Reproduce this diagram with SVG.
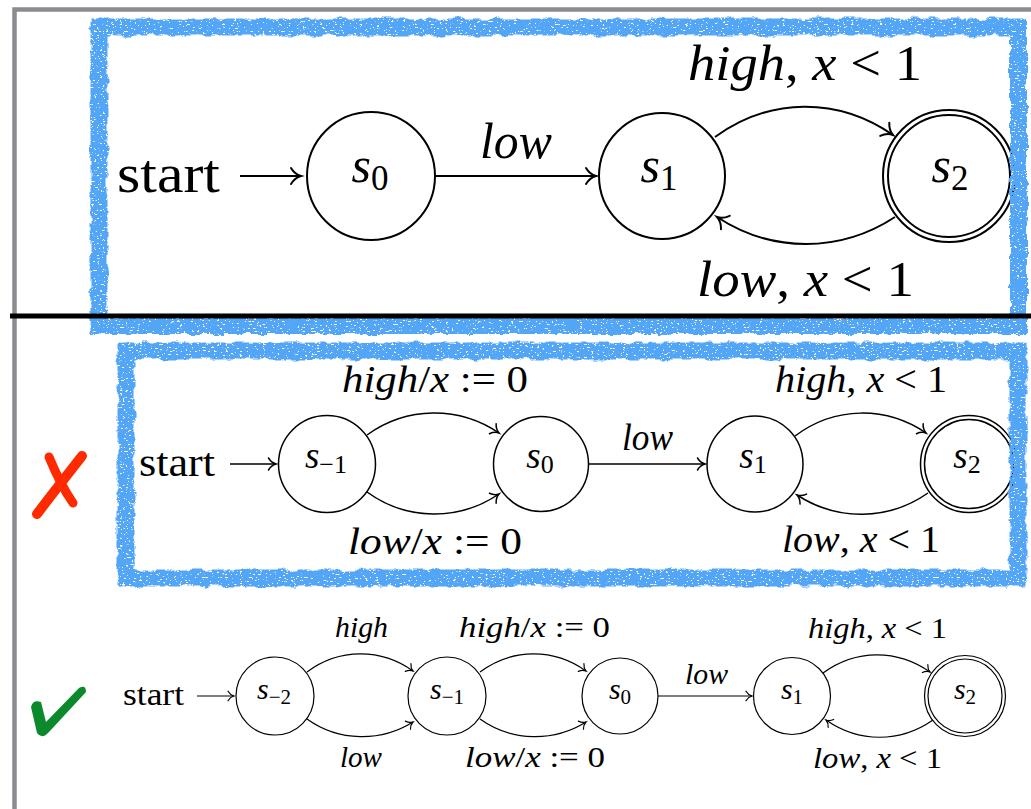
<svg xmlns="http://www.w3.org/2000/svg" width="1031" height="809" viewBox="0 0 1031 809">
<defs>
<style>
text{font-family:"Liberation Serif",serif;fill:#000}
.it{font-style:italic}
.n1{fill:none;stroke:#000;stroke-width:2}
.n2{fill:none;stroke:#000;stroke-width:1.5}
.n3{fill:none;stroke:#000;stroke-width:1.2}
.e1{fill:none;stroke:#000;stroke-width:2;marker-end:url(#arr)}
.e2{fill:none;stroke:#000;stroke-width:1.5;marker-end:url(#arr)}
.e3{fill:none;stroke:#000;stroke-width:1.2;marker-end:url(#arr)}
.t1{font-size:50px}
.t2{font-size:37px}
.t3{font-size:30px}
.blue{fill:none;stroke:#52a5f6;stroke-width:17;filter:url(#rough)}
</style>
<marker id="arr" markerUnits="strokeWidth" orient="auto" viewBox="-6 -5 7 10" refX="0" refY="0" markerWidth="7" markerHeight="10" overflow="visible">
<path d="M-5,-4 C-3.5,-1.5 -1.5,-0.4 0,0 C-1.5,0.4 -3.5,1.5 -5,4" fill="none" stroke="#000" stroke-width="1" stroke-linecap="round"/>
</marker>
<filter id="rough" filterUnits="userSpaceOnUse" x="0" y="0" width="1031" height="809">
<feTurbulence type="fractalNoise" baseFrequency="0.09" numOctaves="3" seed="3" result="n"/>
<feDisplacementMap in="SourceGraphic" in2="n" scale="7" xChannelSelector="R" yChannelSelector="G" result="d"/>
<feTurbulence type="fractalNoise" baseFrequency="0.35 0.7" numOctaves="2" seed="7" result="n2"/>
<feColorMatrix in="n2" type="matrix" values="0 0 0 0 0  0 0 0 0 0  0 0 0 0 0  0 0 0 -18 12.9" result="mask"/>
<feComposite in="d" in2="mask" operator="in"/>
</filter>
</defs>
<rect width="1031" height="809" fill="#fff"/>

<g id="frame">
<path d="M14.5,809 V9.5 H1031" fill="none" stroke="#8b8c90" stroke-width="4.5"/>
</g>

<g id="connectors">
<path class="e1" d="M240,176 H301"/>
<path class="e1" d="M435,176 H596"/>
<path class="e1" d="M715,137 C770,97 838,97 893,135"/>
<path class="e1" d="M895,217 C840,253 772,253 717,217"/>

<path class="e2" d="M230,464 H276"/>
<path class="e2" d="M367,435 C407,406 459,406 499,433"/>
<path class="e2" d="M367,492 C407,521 459,521 499,494"/>
<path class="e2" d="M588,464 H705"/>
<path class="e2" d="M795,436 C835,406 886,406 926,433"/>
<path class="e2" d="M928,493 C888,521 837,521 797,495"/>

<path class="e3" d="M197,696 H234"/>
<path class="e3" d="M307,672 C339,648 381,648 413,671"/>
<path class="e3" d="M307,719 C339,742 381,742 413,722"/>
<path class="e3" d="M480,672 C512,648 554,648 586,671"/>
<path class="e3" d="M480,719 C512,742 554,742 586,722"/>
<path class="e3" d="M658,696 H752"/>
<path class="e3" d="M823,673 C856,649 897,649 930,672"/>
<path class="e3" d="M933,720 C900,743 859,743 826,720"/>
</g>

<g id="labels">
<text x="117" y="192" font-size="54" textLength="103" lengthAdjust="spacingAndGlyphs">start</text>
<text class="t1" x="480" y="158" textLength="72" lengthAdjust="spacingAndGlyphs"><tspan class="it">low</tspan></text>
<text class="t1" x="688" y="80" textLength="234" lengthAdjust="spacingAndGlyphs"><tspan class="it">high</tspan>, <tspan class="it">x</tspan> &lt; 1</text>
<text class="t1" x="697" y="296" textLength="217" lengthAdjust="spacingAndGlyphs"><tspan class="it">low</tspan>, <tspan class="it">x</tspan> &lt; 1</text>

<text x="139" y="476" font-size="40" textLength="76" lengthAdjust="spacingAndGlyphs">start</text>
<text class="t2" x="342" y="392" textLength="186" lengthAdjust="spacingAndGlyphs"><tspan class="it">high</tspan>/<tspan class="it">x</tspan> := 0</text>
<text class="t2" x="348" y="554" textLength="174" lengthAdjust="spacingAndGlyphs"><tspan class="it">low</tspan>/<tspan class="it">x</tspan> := 0</text>
<text class="t2" x="622" y="450" textLength="51" lengthAdjust="spacingAndGlyphs"><tspan class="it">low</tspan></text>
<text class="t2" x="775" y="392" textLength="172" lengthAdjust="spacingAndGlyphs"><tspan class="it">high</tspan>, <tspan class="it">x</tspan> &lt; 1</text>
<text class="t2" x="782" y="552" textLength="158" lengthAdjust="spacingAndGlyphs"><tspan class="it">low</tspan>, <tspan class="it">x</tspan> &lt; 1</text>

<text x="123" y="705" font-size="32" textLength="61" lengthAdjust="spacingAndGlyphs">start</text>
<text class="t3" x="335" y="637" textLength="53" lengthAdjust="spacingAndGlyphs"><tspan class="it">high</tspan></text>
<text class="t3" x="340" y="767" textLength="42" lengthAdjust="spacingAndGlyphs"><tspan class="it">low</tspan></text>
<text class="t3" x="459" y="637" textLength="151" lengthAdjust="spacingAndGlyphs"><tspan class="it">high</tspan>/<tspan class="it">x</tspan> := 0</text>
<text class="t3" x="465" y="767" textLength="140" lengthAdjust="spacingAndGlyphs"><tspan class="it">low</tspan>/<tspan class="it">x</tspan> := 0</text>
<text class="t3" x="685" y="684" textLength="43" lengthAdjust="spacingAndGlyphs"><tspan class="it">low</tspan></text>
<text class="t3" x="808" y="638" textLength="139" lengthAdjust="spacingAndGlyphs"><tspan class="it">high</tspan>, <tspan class="it">x</tspan> &lt; 1</text>
<text class="t3" x="813" y="768" textLength="129" lengthAdjust="spacingAndGlyphs"><tspan class="it">low</tspan>, <tspan class="it">x</tspan> &lt; 1</text>
</g>

<g id="top-s0"><circle class="n1" cx="371" cy="176" r="64"/><text class="t1" x="370" y="182" text-anchor="middle"><tspan class="it">s</tspan><tspan font-size="35" dy="8">0</tspan></text></g>
<g id="top-s1"><circle class="n1" cx="662" cy="176" r="63"/><text class="t1" x="659" y="182" text-anchor="middle"><tspan class="it">s</tspan><tspan font-size="35" dy="8">1</tspan></text></g>
<g id="top-s2"><circle class="n1" cx="949" cy="176" r="66"/><circle class="n1" cx="949" cy="176" r="61"/><text class="t1" x="950" y="182" text-anchor="middle"><tspan class="it">s</tspan><tspan font-size="35" dy="8">2</tspan></text></g>

<g id="mid-s-1"><circle class="n2" cx="327" cy="464" r="48.5"/><text class="t2" x="326" y="468" text-anchor="middle"><tspan class="it">s</tspan><tspan font-size="26" dy="5">&#8722;1</tspan></text></g>
<g id="mid-s0"><circle class="n2" cx="541" cy="464" r="47.5"/><text class="t2" x="540" y="468" text-anchor="middle"><tspan class="it">s</tspan><tspan font-size="26" dy="5">0</tspan></text></g>
<g id="mid-s1"><circle class="n2" cx="755" cy="464" r="48"/><text class="t2" x="753" y="468" text-anchor="middle"><tspan class="it">s</tspan><tspan font-size="26" dy="5">1</tspan></text></g>
<g id="mid-s2"><circle class="n2" cx="969" cy="464" r="48.5"/><circle class="n2" cx="969" cy="464" r="44.5"/><text class="t2" x="967" y="468" text-anchor="middle"><tspan class="it">s</tspan><tspan font-size="26" dy="5">2</tspan></text></g>

<g id="bot-s-2"><circle class="n3" cx="275" cy="696" r="39"/><text class="t3" x="274" y="699" text-anchor="middle"><tspan class="it">s</tspan><tspan font-size="21" dy="5">&#8722;2</tspan></text></g>
<g id="bot-s-1"><circle class="n3" cx="447" cy="696" r="39"/><text class="t3" x="447" y="699" text-anchor="middle"><tspan class="it">s</tspan><tspan font-size="21" dy="5">&#8722;1</tspan></text></g>
<g id="bot-s0"><circle class="n3" cx="620" cy="696" r="38"/><text class="t3" x="620" y="699" text-anchor="middle"><tspan class="it">s</tspan><tspan font-size="21" dy="5">0</tspan></text></g>
<g id="bot-s1"><circle class="n3" cx="792" cy="696" r="38.5"/><text class="t3" x="792" y="699" text-anchor="middle"><tspan class="it">s</tspan><tspan font-size="21" dy="5">1</tspan></text></g>
<g id="bot-s2"><circle class="n3" cx="965" cy="696" r="40.5"/><circle class="n3" cx="965" cy="696" r="37"/><text class="t3" x="965" y="699" text-anchor="middle"><tspan class="it">s</tspan><tspan font-size="21" dy="5">2</tspan></text></g>

<g id="highlights">
<rect class="blue" x="99" y="27" width="919.5" height="298.5"/>
<rect class="blue" x="126" y="351" width="892" height="227"/>
</g>

<path id="separator" d="M10,316 H1031" stroke="#000" stroke-width="5"/>

<g id="cross" fill="none" stroke="#ff2a00" stroke-linecap="round">
<path d="M82,456 C68,474 52,494 37,514" stroke-width="10"/>
<path d="M49,457 C56,474 64,490 73,503" stroke-width="9"/>
</g>
<g id="check">
<path d="M31,707 Q33,699 41,702 L46,722 L79,688 Q86,684 86,692 L49,732 Q42,740 37,733 Z" fill="#0b8a2b"/>
</g>
</svg>
